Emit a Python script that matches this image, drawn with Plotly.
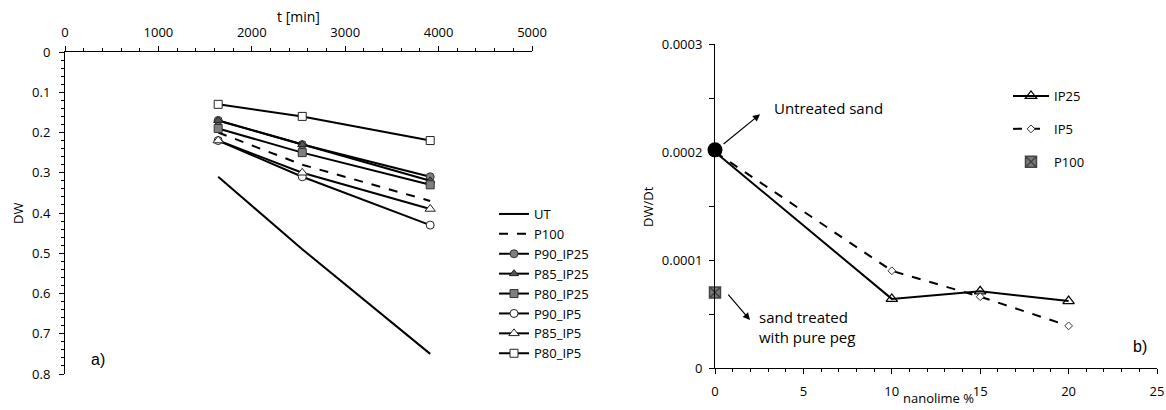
import plotly.graph_objects as go

W, H = 1166, 410

# ---- Left chart data (a) ----
t_min = [1640, 2540, 3910]
UT = [0.31, 0.49, 0.75]
P100 = [0.20, 0.28, 0.37]
P90_IP25 = [0.17, 0.23, 0.31]
P85_IP25 = [0.17, 0.23, 0.32]
P80_IP25 = [0.19, 0.25, 0.33]
P90_IP5 = [0.22, 0.31, 0.43]
P85_IP5 = [0.22, 0.30, 0.39]
P80_IP5 = [0.13, 0.16, 0.22]

# ---- Right chart data (b) ----
nanolime = [0, 10, 15, 20]
IP25 = [0.000200, 0.000064, 0.000071, 0.000062]
IP5 = [0.000200, 0.000090, 0.000066, 0.000039]
p100_x = [0]
p100_y = [0.000070]
untreated_x = [0]
untreated_y = [0.000202]

ytick_vals_b = [0, 0.0001, 0.0002, 0.0003]
ytick_text_b = ["0", "0.0001", "0.0002", "0.0003"]

FONT = "Open Sans"

def px_x(p):
    return p / W

def px_y(p):
    return 1 - p / H

fig = go.Figure()

left_series = [
    ("UT", UT, dict(dash="solid"), None),
    ("P100", P100, dict(dash="dash"), None),
    ("P90_IP25", P90_IP25, dict(dash="solid"), dict(symbol="circle", color="#7f7f7f", size=8, line=dict(color="#333", width=1))),
    ("P85_IP25", P85_IP25, dict(dash="solid"), dict(symbol="triangle-up", color="#555555", size=8, line=dict(color="#222", width=1))),
    ("P80_IP25", P80_IP25, dict(dash="solid"), dict(symbol="square", color="#7f7f7f", size=8, line=dict(color="#333", width=1))),
    ("P90_IP5", P90_IP5, dict(dash="solid"), dict(symbol="circle", color="white", size=8, line=dict(color="#222", width=1))),
    ("P85_IP5", P85_IP5, dict(dash="solid"), dict(symbol="triangle-up", color="white", size=9, line=dict(color="#222", width=1))),
    ("P80_IP5", P80_IP5, dict(dash="solid"), dict(symbol="square", color="white", size=8, line=dict(color="#222", width=1))),
]

for name, vals, ld, mk in left_series:
    fig.add_trace(go.Scatter(
        x=t_min, y=vals, name=name,
        mode="lines+markers" if mk else "lines",
        line=dict(color="black", width=2, **ld),
        marker=mk if mk else None,
        xaxis="x", yaxis="y", legend="legend",
    ))

# right chart
fig.add_trace(go.Scatter(
    x=nanolime, y=IP25, name="IP25", mode="lines+markers",
    line=dict(color="black", width=2),
    marker=dict(symbol="triangle-up-open", size=10, color="black", line=dict(width=1.2)),
    xaxis="x2", yaxis="y2", legend="legend2", legendgroup="a", cliponaxis=False,
))
fig.add_trace(go.Scatter(
    x=nanolime, y=IP5, name="IP5", mode="lines+markers",
    line=dict(color="black", width=2, dash="dash"),
    marker=dict(symbol="diamond", size=6, color="white", line=dict(color="#333", width=1)),
    xaxis="x2", yaxis="y2", legend="legend2", legendgroup="b", cliponaxis=False,
))
fig.add_trace(go.Scatter(
    x=p100_x, y=p100_y, name="P100", mode="markers",
    marker=dict(symbol="square-x", size=11, color="#7a7a7a", line=dict(color="#444", width=1.5)),
    xaxis="x2", yaxis="y2", legend="legend2", legendgroup="c", cliponaxis=False,
))
fig.add_trace(go.Scatter(
    x=untreated_x, y=untreated_y, name="Untreated sand", mode="markers",
    marker=dict(symbol="circle", size=15, color="black"),
    xaxis="x2", yaxis="y2", showlegend=False, cliponaxis=False,
))

axis_common = dict(
    showline=True, linecolor="black", linewidth=1,
    ticks="outside", ticklen=5, tickcolor="black",
    showgrid=False, zeroline=False, automargin=False,
    tickfont=dict(family=FONT, size=13, color="black"),
)

fig.update_layout(
    width=W, height=H,
    margin=dict(l=0, r=0, t=0, b=0, pad=0, autoexpand=False),
    paper_bgcolor="white", plot_bgcolor="white",
    font=dict(family=FONT, color="black"),
    xaxis=dict(domain=[px_x(65), px_x(532)], anchor="y", side="top",
               range=[0, 5000], dtick=1000, ticklabelstandoff=4,
               minor=dict(dtick=200, ticks="outside", ticklen=3, tickcolor="black"),
               **axis_common),
    yaxis=dict(domain=[px_y(374), px_y(52)], anchor="x",
               range=[0.8, 0], dtick=0.1, ticklabelstandoff=6,
               minor=dict(dtick=0.02, ticks="outside", ticklen=3, tickcolor="black"),
               **axis_common),
    xaxis2=dict(domain=[px_x(715), px_x(1157)], anchor="y2",
                range=[0, 25], dtick=5, ticklabelstandoff=6,
                minor=dict(dtick=1, ticks="outside", ticklen=3, tickcolor="black"),
                **axis_common),
    yaxis2=dict(domain=[px_y(368), px_y(44)], anchor="x2",
                range=[0, 0.0003], tickvals=ytick_vals_b, ticktext=ytick_text_b,
                ticklabelstandoff=4,
                minor=dict(dtick=0.00005, ticks="outside", ticklen=5, tickcolor="black"),
                **axis_common),
    legend=dict(x=px_x(494), y=px_y(199), xanchor="left", yanchor="top",
                font=dict(family=FONT, size=13, color="black"),
                bgcolor="rgba(0,0,0,0)", tracegroupgap=0),
    legend2=dict(x=px_x(1008), y=px_y(81), xanchor="left", yanchor="top",
                 font=dict(family=FONT, size=13, color="black"), itemwidth=36,
                 bgcolor="rgba(0,0,0,0)", tracegroupgap=13),
    showlegend=True,
)

def txt(text, x, y, size=13, family=FONT, angle=0):
    return dict(text=text, x=px_x(x), y=px_y(y), xref="paper", yref="paper",
                xanchor="center", yanchor="middle", showarrow=False, textangle=angle,
                font=dict(family=family, size=size, color="black"))

ann = [
    txt("t [min]", 299, 16, size=14),
    txt("DW", 18, 214, angle=-90),
    txt("DW/Dt", 648, 207, angle=-90),
    txt("nanolime %", 938, 398),
    txt("a)", 98, 359, size=16, family="Liberation Sans"),
    txt("b)", 1140, 346, size=16, family="Liberation Sans"),
]
# callouts on right chart
ann.append(dict(text="Untreated sand", x=3.2, y=0.000241, xref="x2", yref="y2",
                xanchor="left", yanchor="middle", showarrow=False,
                font=dict(family=FONT, size=15, color="black")))
ann.append(dict(text="", x=2.55, y=0.000235, xref="x2", yref="y2",
                ax=-38, ay=31, showarrow=True, arrowhead=2, arrowsize=1.2, arrowwidth=1.2,
                arrowcolor="black"))
ann.append(dict(text="sand treated<br>with pure peg", x=2.4, y=0.000038, xref="x2", yref="y2",
                xanchor="left", yanchor="middle", align="left", showarrow=False,
                font=dict(family=FONT, size=15, color="black")))
ann.append(dict(text="", x=1.98, y=0.0000444, xref="x2", yref="y2",
                ax=-23, ay=-27, showarrow=True, arrowhead=2, arrowsize=1.2, arrowwidth=1.2,
                arrowcolor="black"))
fig.update_layout(annotations=ann)

fig.write_html("out.html")
